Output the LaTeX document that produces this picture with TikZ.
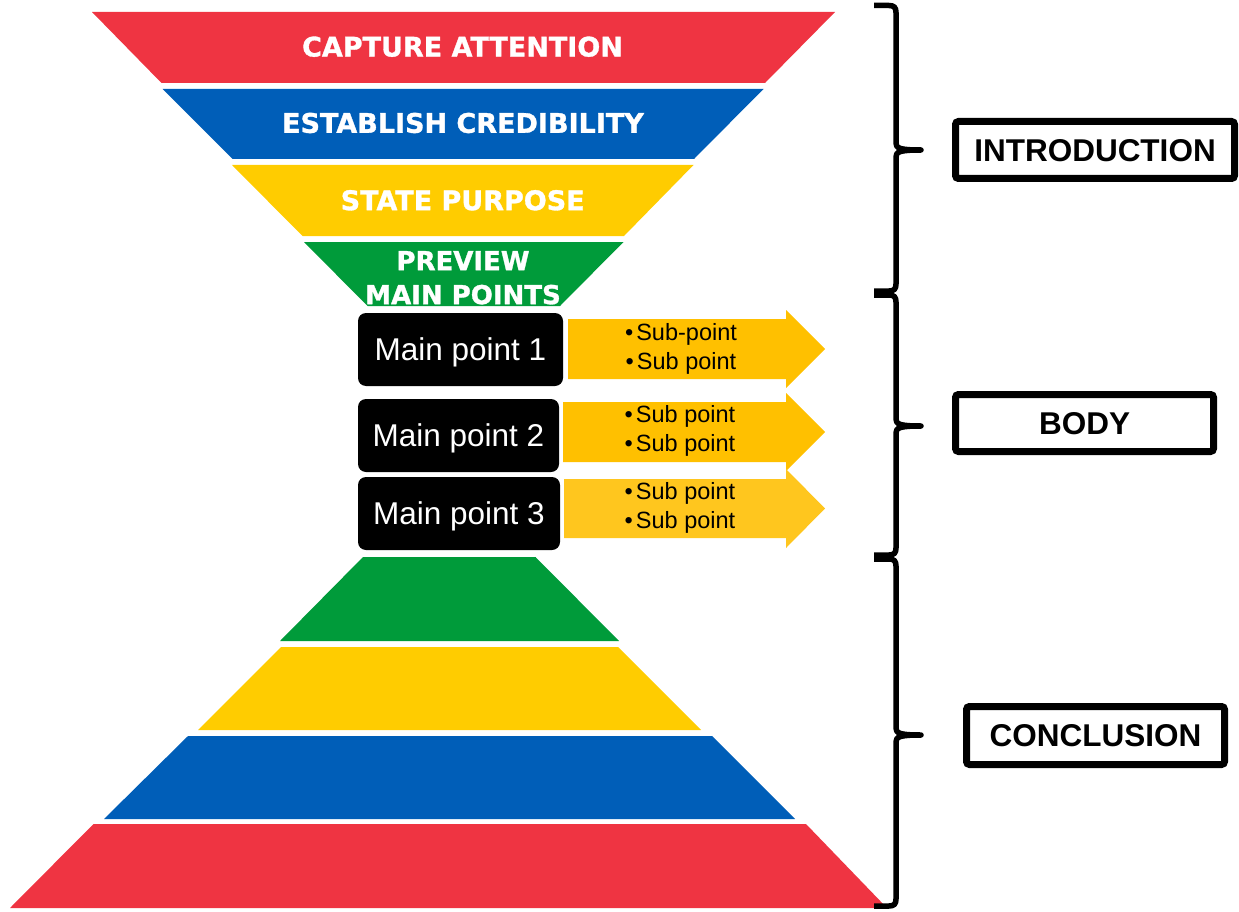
\documentclass[tikz,border=0pt]{standalone}
\usepackage{fontspec}
\setmainfont{Liberation Sans}
\newfontfamily\heavyfont{DejaVu Sans}[BoldFeatures={FakeBold=1.2}]
\definecolor{fred}{RGB}{239,52,66}
\definecolor{fblue}{RGB}{0,94,184}
\definecolor{fyellow}{RGB}{255,204,0}
\definecolor{fgreen}{RGB}{0,155,58}
\definecolor{famber}{RGB}{255,192,0}
\definecolor{famberlight}{RGB}{255,198,30}
\begin{document}
\begin{tikzpicture}[x=1pt,y=-1pt,
  bandtext/.style={text=white, font=\heavyfont\bfseries\fontsize{27}{30}\selectfont, inner sep=0pt},
  mainbox/.style={fill=black, rounded corners=8pt, text=white, font=\fontsize{31.5}{36}\selectfont,
     minimum height=73pt, inner sep=0pt, text height=22.5pt, text depth=0pt},
  subtext/.style={font=\fontsize{23.5}{29}\selectfont, align=center, inner sep=0pt, text=black},
  labelbox/.style={draw=black, fill=white, line width=7pt, rounded corners=3pt,
     font=\bfseries\fontsize{31.5}{36}\selectfont, inner sep=0pt, text height=22.5pt, text depth=0pt, minimum height=57pt},
  bracestyle/.style={draw=black, line width=5.5pt, line join=round}
]
\useasboundingbox (0,0) rectangle (1239,912);

% top funnel
\fill[fred] (92,12) -- (835,12) -- (765,83) -- (161.5,83) -- cycle;
\fill[fblue] (162.5,89) -- (763.5,89) -- (694,159) -- (232.5,159) -- cycle;
\fill[fyellow] (232,165) -- (693.5,165) -- (624,236) -- (302.5,236) -- cycle;
\fill[fgreen] (304,242) -- (623.5,242) -- (560,306) -- (367.5,306) -- cycle;

\node[bandtext] (capture) at (462.5,46.7) {CAPTURE ATTENTION};
\node[bandtext] (establish) at (463,123) {ESTABLISH CREDIBILITY};
\node[bandtext] (purpose) at (462.7,200.3) {STATE PURPOSE};
\node[bandtext, font=\heavyfont\bfseries\fontsize{26}{34}\selectfont, align=center] (preview) at (463,277.8) {PREVIEW\\MAIN POINTS};

% arrows
\fill[famber] (568,319) -- (786,319) -- (786,310) -- (825,349) -- (786,388) -- (786,379) -- (568,379) -- cycle;
\fill[famber] (563,402) -- (786,402) -- (786,393) -- (825,432) -- (786,471) -- (786,462) -- (563,462) -- cycle;
\fill[famberlight] (564,479) -- (786,479) -- (786,469) -- (825,508.5) -- (786,548) -- (786,538) -- (564,538) -- cycle;

\node[subtext] (sub1) at (681,348.5) {\textbullet\hspace{3pt}Sub-point\\\textbullet\hspace{3pt}Sub point};
\node[subtext] (sub2) at (680,430.5) {\textbullet\hspace{3pt}Sub point\\\textbullet\hspace{3pt}Sub point};
\node[subtext] (sub3) at (680,507.5) {\textbullet\hspace{3pt}Sub point\\\textbullet\hspace{3pt}Sub point};

% main point boxes
\node[mainbox, minimum width=205pt] (mp1) at (460.5,349.5) {Main point 1};
\node[mainbox, minimum width=201pt] (mp2) at (458.5,435.5) {Main point 2};
\node[mainbox, minimum width=202pt] (mp3) at (459,513.5) {Main point 3};

% bottom pyramid
\fill[fgreen] (363,557) -- (535.5,557) -- (619,641) -- (280,641) -- cycle;
\fill[fyellow] (281,647) -- (618,647) -- (701,730) -- (198,730) -- cycle;
\fill[fblue] (188,736) -- (712,736) -- (795,819) -- (104,819) -- cycle;
\fill[fred] (93.5,824) -- (806,824) -- (887,908) -- (10,908) -- cycle;

% braces
\draw[bracestyle] (874,5.5) -- (889,5.5) .. controls (894,5.5) and (896,7.5) .. (896,12.5)
  -- (896,143) .. controls (896,148) and (899,150) .. (921,150)
  .. controls (899,150) and (896,152) .. (896,157)
  -- (896,284) .. controls (896,289) and (894,291) .. (889,291) -- (874,291);
\draw[bracestyle] (874,295) -- (889,295) .. controls (894,295) and (896,297) .. (896,302)
  -- (896,419) .. controls (896,424) and (899,426) .. (921,426)
  .. controls (899,426) and (896,428) .. (896,433)
  -- (896,548) .. controls (896,553) and (894,555) .. (889,555) -- (874,555);
\draw[bracestyle] (874,559) -- (889,559) .. controls (894,559) and (896,561) .. (896,566)
  -- (896,728) .. controls (896,733) and (899,735) .. (921,735)
  .. controls (899,735) and (896,737) .. (896,742)
  -- (896,899) .. controls (896,904) and (894,906) .. (889,906) -- (874,906);

% labels
\node[labelbox, minimum width=279pt] (intro) at (1095,150) {INTRODUCTION};
\node[labelbox, minimum width=258pt] (body) at (1084.5,423) {BODY};
\node[labelbox, minimum width=258pt, minimum height=58pt] (concl) at (1095.5,735.5) {CONCLUSION};
\end{tikzpicture}
\end{document}
